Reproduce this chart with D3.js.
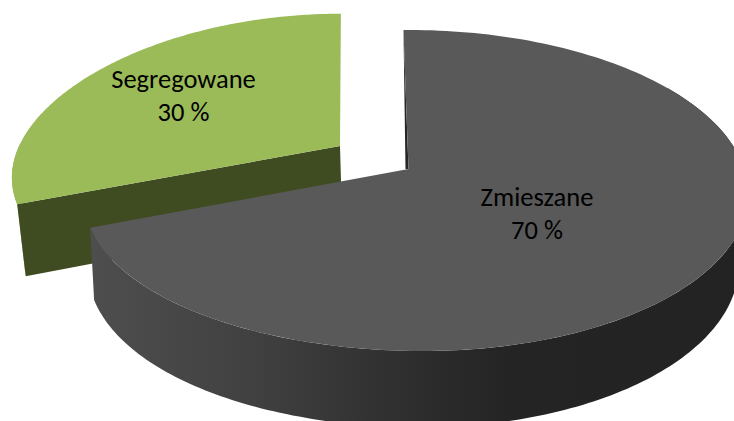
<!DOCTYPE html>
<html>
<head>
<meta charset="utf-8">
<script src="https://cdn.jsdelivr.net/npm/d3@7/dist/d3.min.js"></script>
<style>
  html, body { margin: 0; padding: 0; background: #fff; overflow: hidden; }
  svg { display: block; }
</style>
</head>
<body>
<div id="container"></div>
<script>
let w = 734;
let h = 421;

let categories = ["Zmieszane", "Segregowane"];
let values = [70, 30];
let valueLabels = ["70 %", "30 %"];

let viz = d3.select("#container")
  .append("svg")
  .attr("width", w)
  .attr("height", h);

// fake 3d: the disc is tilted, so each slice gets its own perspective settings
let views = [
  { cx: 408.5, cy: 169, a: 329, b: 5.7, c: 157.6, k: 0.134, m: 0.02, bend: 10, depth: 70, inset: 0.98, shift: -2.5,
    top: "#595959", face: "#262626" },
  { cx: 340, cy: 146, a: 325, b: -1, c: 150, k: 0.134, m: 0, bend: 11, depth: 70, inset: 0.98, shift: 2,
    top: "#9bbb59", face: "#3f4c22", rim: "#8ea94f" }
];
let labelSpots = [
  { x: 537, y: 206 },
  { x: 183.5, y: 88 }
];

function project(view, angle) {
  let u = Math.sin(angle);
  let v = -Math.cos(angle);
  let d = 1 - view.k * v - view.m * u;
  let bend = u < 0 ? view.bend * u * u : 0;
  return [
    view.cx + (view.a * u + view.b * v) / d,
    view.cy + (view.c * v) / d + bend
  ];
}

// same point on the underside, the front of the disc looks a bit thicker
function lower(view, p) {
  return [
    view.cx + view.shift + (p[0] - view.cx) * view.inset,
    p[1] + view.depth + 0.035 * (p[1] - view.cy)
  ];
}

let pie = d3.pie().sort(null).value(d => d);
let slices = pie(values);

let line = d3.line().curve(d3.curveLinear);

function arcPoints(view, a0, a1) {
  return d3.range(0, 181).map(i => project(view, a0 + (a1 - a0) * i / 180));
}

let defs = viz.append("defs");
let grad = defs.append("linearGradient")
  .attr("id", "sideShade")
  .attr("gradientUnits", "userSpaceOnUse")
  .attr("x1", 88).attr("x2", 734).attr("y1", 0).attr("y2", 0);
grad.append("stop").attr("offset", 0).attr("stop-color", "#4e4e4e");
grad.append("stop").attr("offset", 0.25).attr("stop-color", "#414141");
grad.append("stop").attr("offset", 0.48).attr("stop-color", "#2f2f2f");
grad.append("stop").attr("offset", 0.65).attr("stop-color", "#242424");
grad.append("stop").attr("offset", 1).attr("stop-color", "#232323");

// green slice first, it sits behind the big one
let gv = views[1];
let gs = slices[1];
let gLeft = project(gv, gs.startAngle);
let gApex = [gv.cx, gv.cy];

// rim of the green slice, only the small bit on the left shows
let rimTop = arcPoints(gv, gs.startAngle, gs.startAngle + 0.4);
viz.append("path")
  .attr("d", line(rimTop.concat([lower(gv, gLeft)])) + "Z")
  .attr("fill", gv.rim);

viz.append("path")
  .attr("d", line([gLeft, gApex, lower(gv, gApex), lower(gv, gLeft)]) + "Z")
  .attr("fill", gv.face);

viz.append("path")
  .attr("d", line([gApex].concat(arcPoints(gv, gs.startAngle, gs.endAngle))) + "Z")
  .attr("fill", gv.top);

// big grey slice
let dv = views[0];
let ds = slices[0];
let dApex = [dv.cx, dv.cy];
let outer = arcPoints(dv, ds.startAngle, ds.endAngle);

// the side only needs the front part of the arc, the back is hidden by the top
let sideArc = arcPoints(dv, ds.startAngle + 1, ds.endAngle);
viz.append("path")
  .attr("d", line(sideArc.concat(sideArc.map(p => lower(dv, p)).reverse())) + "Z")
  .attr("fill", "url(#sideShade)");

viz.append("path")
  .attr("d", line([outer[0], dApex, [dv.cx - 3, dv.cy]]) + "Z")
  .attr("fill", dv.face);

viz.append("path")
  .attr("d", line([dApex].concat(outer)) + "Z")
  .attr("fill", dv.top);

// labels
let labels = viz.selectAll(".label").data(categories).enter()
  .append("text")
  .attr("class", "label")
  .attr("text-anchor", "middle")
  .attr("font-family", "Carlito, Calibri, Lato, sans-serif")
  .attr("font-size", 26.5)
  .attr("fill", "#000");

labels.append("tspan")
  .attr("x", (d, i) => labelSpots[i].x)
  .attr("y", (d, i) => labelSpots[i].y)
  .text(d => d);

labels.append("tspan")
  .attr("x", (d, i) => labelSpots[i].x)
  .attr("y", (d, i) => labelSpots[i].y + 33)
  .text((d, i) => valueLabels[i]);
</script>
</body>
</html>
